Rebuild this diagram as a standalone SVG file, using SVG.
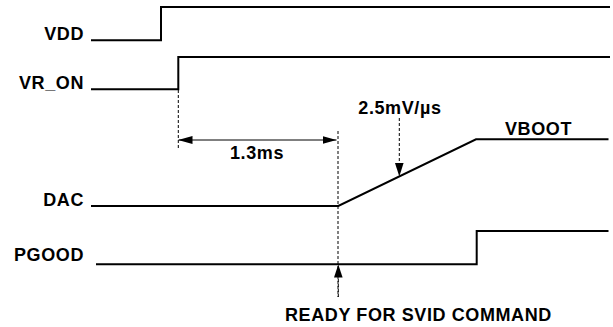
<svg xmlns="http://www.w3.org/2000/svg" width="613" height="327" viewBox="0 0 613 327">
<defs>
<style>
.sig{fill:none;stroke:#000;stroke-width:2;stroke-linejoin:miter}
.dash{fill:none;stroke:#000;stroke-width:1;stroke-dasharray:3,2}
.dim{fill:none;stroke:#000;stroke-width:1}
.lbl{font-family:"Liberation Sans",Arial,sans-serif;font-weight:bold;font-size:18px;letter-spacing:0.6px;fill:#000}
</style>
<marker id="ah" viewBox="0 0 14 8" refX="14" refY="4" markerWidth="14" markerHeight="8" markerUnits="userSpaceOnUse" orient="auto">
<path d="M0,0 L14,4 L0,8 Z" fill="#000"/>
</marker>
</defs>
<rect width="613" height="327" fill="#fff"/>
<g id="VDD">
<text class="lbl" x="84" y="39.5" text-anchor="end">VDD</text>
<polyline class="sig" points="91,40.3 161,40.3 161,7 610,7"/>
</g>
<g id="VR_ON">
<text class="lbl" x="84" y="89" text-anchor="end">VR_ON</text>
<polyline class="sig" points="91,89.3 178.3,89.3 178.3,57 610,57"/>
</g>
<g id="DAC">
<text class="lbl" x="84" y="206" text-anchor="end">DAC</text>
<polyline class="sig" points="91,206 338.3,206 476,139.3 608.5,139.3"/>
<text class="lbl" x="505" y="135">VBOOT</text>
</g>
<g id="PGOOD">
<text class="lbl" x="84" y="260.5" text-anchor="end">PGOOD</text>
<polyline class="sig" points="96,264.3 476.7,264.3 476.7,231 608.5,231"/>
</g>
<g id="connectors">
<line class="dash" x1="178.3" y1="90" x2="178.3" y2="148"/>
<line class="dash" x1="338" y1="131" x2="338" y2="297"/>
<line class="dim" x1="258" y1="140" x2="178.5" y2="140" marker-end="url(#ah)"/>
<line class="dim" x1="258" y1="140" x2="336.5" y2="140" marker-end="url(#ah)"/>
<line class="dash" x1="399.3" y1="118" x2="399.3" y2="164"/>
<path d="M395,163 L403.6,163 L399.3,176.5 Z" fill="#000"/>
<line class="dash" x1="338.3" y1="297" x2="338.3" y2="277"/>
<path d="M334,277.5 L342.6,277.5 L338.3,264.5 Z" fill="#000"/>
</g>
<g id="labels">
<text class="lbl" x="230" y="159.3">1.3ms</text>
<text class="lbl" x="358.3" y="114">2.5mV/µs</text>
<text class="lbl" x="285" y="320.5">READY FOR SVID COMMAND</text>
</g>
</svg>
